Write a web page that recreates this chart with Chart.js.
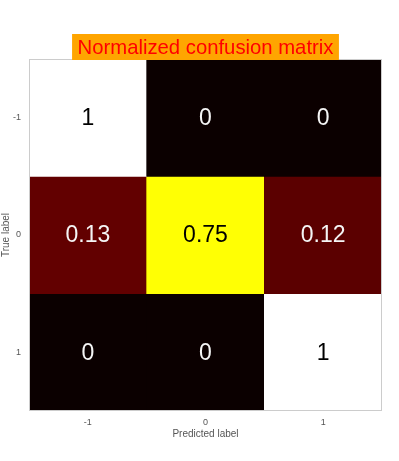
<!DOCTYPE html>
<html>
<head>
<meta charset="utf-8">
<script src="https://cdn.jsdelivr.net/npm/chart.js@4"></script>
<style>
  body { margin: 0; background: #fff; }
</style>
</head>
<body>
<canvas id="myChart" width="399" height="461"></canvas>
<script>
// confusion matrix, rows = true label, cols = predicted label
const PREDICTED = ['-1', '0', '1'];
const TRUE_LABELS = [-1, 0, 1];
const ROW_M1 = [1, 0, 0];
const ROW_0 = [0.13, 0.75, 0.12];
const ROW_P1 = [0, 0, 1];
const ROWS = [ROW_M1, ROW_0, ROW_P1];

const FONT = '"Liberation Sans", Arial, Helvetica, sans-serif';

// matplotlib "hot" colormap
function hot(v) {
    const r = v < 0.365079 ? 0.0416 + (1 - 0.0416) * v / 0.365079 : 1;
    const g = v < 0.365079 ? 0 : (v < 0.746032 ? (v - 0.365079) / (0.746032 - 0.365079) : 1);
    const b = v < 0.746032 ? 0 : (v - 0.746032) / (1 - 0.746032);
    return 'rgb(' + Math.round(r * 255) + ',' + Math.round(g * 255) + ',' + Math.round(b * 255) + ')';
}

const datasets = ROWS.map((row, i) => ({
    label: String(TRUE_LABELS[i]),
    data: row.map(() => [TRUE_LABELS[i] - 0.5, TRUE_LABELS[i] + 0.5]),
    values: row,
    backgroundColor: row.map(hot),
    borderWidth: 0,
    barPercentage: 1,
    categoryPercentage: 1
}));

const cellText = {
    id: 'cellText',
    afterDatasetsDraw(chart) {
        const ctx = chart.ctx;
        ctx.save();
        ctx.font = '23px ' + FONT;
        ctx.textAlign = 'center';
        ctx.textBaseline = 'middle';
        chart.data.datasets.forEach((ds, i) => {
            chart.getDatasetMeta(i).data.forEach((bar, j) => {
                const v = ds.values[j];
                const p = bar.getCenterPoint();
                ctx.fillStyle = v > 0.5 ? '#000000' : '#f5f5f5';
                ctx.fillText(String(v), p.x, p.y + 1);
            });
        });
        // frame
        const a = chart.chartArea;
        ctx.strokeStyle = '#cccccc';
        ctx.lineWidth = 1;
        ctx.strokeRect(a.left + 0.5, a.top + 0.5, a.right - a.left - 1, a.bottom - a.top - 1);
        // title with orange box
        ctx.font = '20.3px ' + FONT;
        const text = 'Normalized confusion matrix';
        const w = ctx.measureText(text).width;
        const cx = (a.left + a.right) / 2;
        ctx.fillStyle = '#ffa500';
        ctx.fillRect(cx - w / 2 - 5.5, 34, w + 11, 26);
        ctx.fillStyle = '#ff0000';
        ctx.fillText(text, cx, 48);
        ctx.restore();
    }
};

const CONTEXT = document.getElementById('myChart').getContext('2d');
new Chart(CONTEXT,
{
    type: 'bar',
    data:
    {
        labels: PREDICTED,
        datasets: datasets
    },
    plugins: [cellText],
    options:
    {
        responsive: false,
        animation: false,
        events: [],
        layout: { padding: { top: 59, right: 17, bottom: 20, left: 0 } },
        plugins:
        {
            legend: { display: false },
            tooltip: { enabled: false }
        },
        scales:
        {
            x:
            {
                stacked: true,
                grid: { display: false, drawTicks: false },
                border: { display: false },
                ticks: { color: '#555555', padding: 6, font: { family: FONT, size: 9 } },
                title: { display: true, text: 'Predicted label', color: '#555555', padding: { top: 0, bottom: 1 }, font: { family: FONT, size: 10 } },
                afterFit: (scale) => { scale.height = 30; }
            },
            y:
            {
                type: 'linear',
                min: -1.5,
                max: 1.5,
                reverse: true,
                grid: { display: false, drawTicks: false },
                border: { display: false },
                afterBuildTicks: (scale) => { scale.ticks = TRUE_LABELS.map(v => ({ value: v })); },
                ticks: { color: '#555555', padding: 8, font: { family: FONT, size: 9 }, callback: (v) => String(v) },
                title: { display: true, text: 'True label', color: '#555555', padding: { top: 0, bottom: 0 }, font: { family: FONT, size: 10 } },
                afterFit: (scale) => { scale.width = 29; }
            }
        }
    }
});
</script>
</body>
</html>
